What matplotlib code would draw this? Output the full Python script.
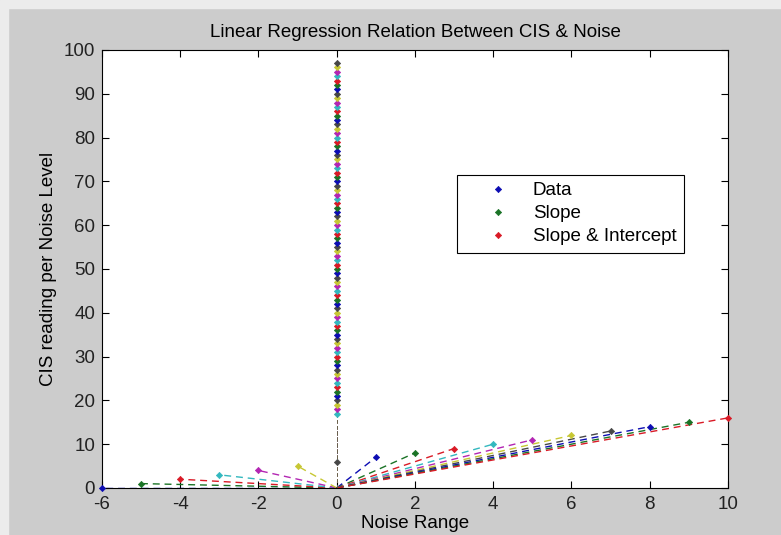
import matplotlib.pyplot as plt
from matplotlib.patches import Rectangle

plt.rcParams['font.family'] = ['Liberation Sans', 'DejaVu Sans']
plt.rcParams['axes.unicode_minus'] = False

# noise range (x) and CIS reading (y) for the spread-out points
noise_side = [-6, -5, -4, -3, -2, -1, 0, 1, 2, 3, 4, 5, 6, 7, 8, 9, 10]
cis_side = [0, 1, 2, 3, 4, 5, 6, 7, 8, 9, 10, 11, 12, 13, 14, 15, 16]

# readings stacked at noise = 0
cis_zero = [17, 18, 19, 20, 21, 22, 23, 24, 25, 26, 27, 28, 29, 30, 31, 32,
            33, 34, 35, 36, 37, 38, 39, 40, 41, 42, 43, 44, 45, 46, 47, 48,
            49, 50, 51, 52, 53, 54, 55, 56, 57, 58, 59, 60, 61, 62, 63, 64,
            65, 66, 67, 68, 69, 70, 71, 72, 73, 74, 75, 76, 77, 78, 79, 80,
            81, 82, 83, 84, 85, 86, 87, 88, 89, 90, 91, 92, 93, 94, 95, 96, 97]
noise_zero = [0] * len(cis_zero)

legend_labels = ["Data", "Slope", "Slope & Intercept"]

# old matlab colour order (a bit darker, like the screenshot)
colors = [(0.05, 0.05, 0.7), (0.1, 0.45, 0.15), (0.85, 0.1, 0.15), (0.2, 0.72, 0.75),
          (0.7, 0.15, 0.7), (0.78, 0.78, 0.2), (0.28, 0.28, 0.28)]

x = noise_side + noise_zero
y = cis_side + cis_zero

fs = 13.5

fig = plt.figure(figsize=(7.81, 5.35), dpi=100, facecolor="#cccccc")
# light screenshot border on top/left
fig.patches.append(Rectangle((0, 1 - 8 / 535), 1, 8 / 535, transform=fig.transFigure,
                             color="#ececec", zorder=0))
fig.patches.append(Rectangle((0, 0), 8 / 781, 1, transform=fig.transFigure,
                             color="#ececec", zorder=0))

ax = fig.add_axes([0.1306, 0.0879, 0.8015, 0.8187])

# dashed lines from origin to each reading
for i in range(len(x)):
    c = colors[i % 7]
    lw = 0.5 if x[i] == 0 else 1.0
    ax.plot([0, x[i]], [0, y[i]], linestyle=(0, (5, 3.5)), color=c, linewidth=lw)

handles = []
for i in range(len(x)):
    c = colors[i % 7]
    h, = ax.plot(x[i], y[i], linestyle="none", marker="D", markersize=3.2,
                 color=c, markeredgewidth=0.5, clip_on=False, zorder=3)
    handles.append(h)

ax.set_xlim(-6, 10)
ax.set_ylim(0, 100)
ax.set_xticks([-6, -4, -2, 0, 2, 4, 6, 8, 10])
ax.set_yticks(range(0, 101, 10))
ax.tick_params(direction="in", top=True, right=True, labelsize=fs, length=5,
               width=0.8, labelcolor="#222222")
ax.tick_params(axis="x", pad=6)
ax.tick_params(axis="y", pad=5)
for s in ax.spines.values():
    s.set_linewidth(0.8)

ax.set_title("Linear Regression Relation Between CIS & Noise", fontsize=fs, pad=9)
ax.set_xlabel("Noise Range", fontsize=fs, labelpad=1)
ax.set_ylabel("CIS reading per Noise Level", fontsize=fs, labelpad=5)

leg = ax.legend(handles[:3], legend_labels, loc="upper left",
                bbox_to_anchor=(0.567, 0.715), borderaxespad=0, fontsize=fs,
                fancybox=False, framealpha=1, edgecolor="black", handlelength=3.6,
                borderpad=0.4, labelspacing=0.31, handletextpad=0.05)
leg.get_frame().set_linewidth(0.8)

fig.savefig("out.png", dpi=100, facecolor=fig.get_facecolor())
